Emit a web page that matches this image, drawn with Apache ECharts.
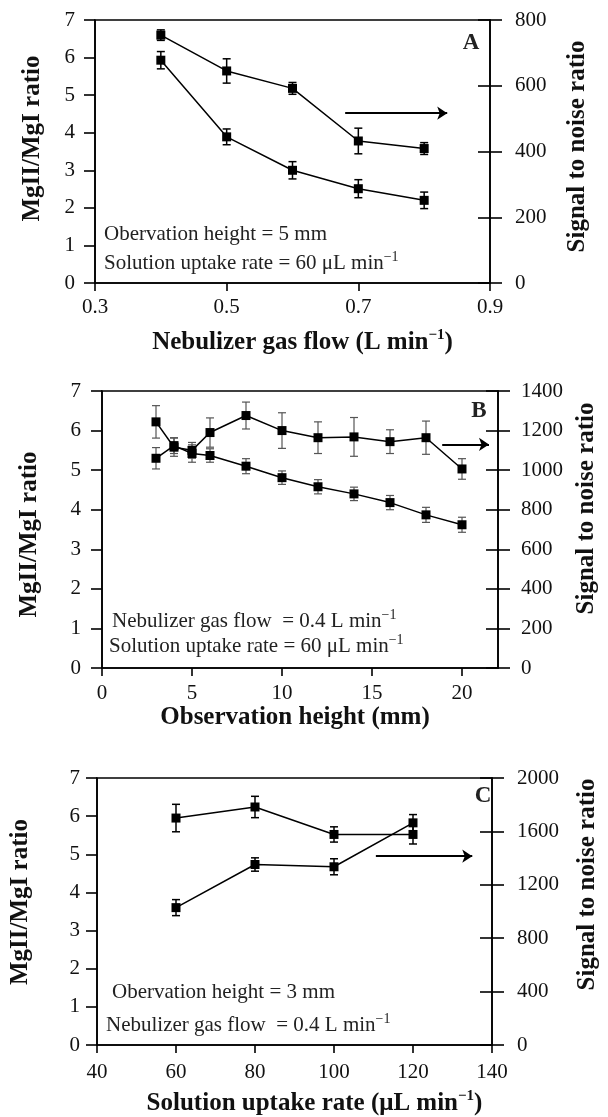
<!DOCTYPE html>
<html>
<head>
<meta charset="utf-8">
<script src="https://cdn.jsdelivr.net/npm/echarts@6/dist/echarts.min.js"></script>
<style>
html,body{margin:0;padding:0;background:#fff;}
#chart{width:608px;height:1117px;}
</style>
</head>
<body>
<div id="chart"></div>
<script>
// ---------- Data ----------
// Panel A: vs nebulizer gas flow
const xA = [0.4, 0.5, 0.6, 0.7, 0.8];
const ratioA = [5.93, 3.89, 3.0, 2.51, 2.2];
const ratioAErr = [0.23, 0.21, 0.23, 0.24, 0.22];
const snrA = [754, 645, 592, 432, 409];
const snrAErr = [16, 37, 18, 39, 18];

// Panel B: vs observation height
const xB = [3, 4, 5, 6, 8, 10, 12, 14, 16, 18, 20];
const ratioB = [5.30, 5.62, 5.42, 5.37, 5.10, 4.81, 4.58, 4.40, 4.18, 3.87, 3.62];
const ratioBErr = [0.27, 0.2, 0.22, 0.17, 0.19, 0.17, 0.18, 0.17, 0.18, 0.19, 0.19];
const snrB = [1244, 1116, 1100, 1190, 1276, 1200, 1164, 1168, 1144, 1164, 1006];
const snrBErr = [82, 46, 40, 74, 68, 90, 80, 98, 60, 84, 52];

// Panel C: vs solution uptake rate
const xC = [60, 80, 100, 120];
const ratioC = [5.95, 6.24, 5.52, 5.52];
const ratioCErr = [0.36, 0.28, 0.2, 0.25];
const snrC = [1029, 1352, 1335, 1664];
const snrCErr = [60, 50, 60, 62];

// Axis ranges / tick steps
const ratioAxis = {min: 0, max: 7, interval: 1};
const xAxisA = {min: 0.3, max: 0.9, interval: 0.2};
const xAxisB = {min: 0, max: 22, interval: 5};
const xAxisC = {min: 40, max: 140, interval: 20};
const snrAxisA = {min: 0, max: 800, interval: 200};
const snrAxisB = {min: 0, max: 1400, interval: 200};
const snrAxisC = {min: 0, max: 2000, interval: 400};

// Arrow annotations (data coords, ratio axis)
const arrowA = [[0.68, 4.52], [0.835, 4.52]];
const arrowB = [[18.9, 5.65], [21.5, 5.65]];
const arrowC = [[110.6, 4.95], [135.0, 4.95]];

// ---------- Helpers ----------
const FONT = '"Liberation Serif", "Times New Roman", serif';
const BLACK = '#111';
const TICK_FS = 21;

function zip(xs, ys) { return xs.map((x, i) => [x, ys[i]]); }
function zip3(xs, ys, es) { return xs.map((x, i) => [x, ys[i], es[i]]); }
function plain(v) { return String(Math.round(v * 1000) / 1000); }

function errSeries(xs, ys, es, xi, yi, color, width) {
  return {
    type: 'custom',
    xAxisIndex: xi, yAxisIndex: yi,
    data: zip3(xs, ys, es),
    silent: true,
    z: 3,
    renderItem: function (params, api) {
      const x = api.value(0), y = api.value(1), e = api.value(2);
      const top = api.coord([x, y + e]);
      const bot = api.coord([x, y - e]);
      const hw = 4;
      const st = {stroke: color, lineWidth: width};
      return {
        type: 'group',
        children: [
          {type: 'line', shape: {x1: top[0], y1: top[1], x2: bot[0], y2: bot[1]}, style: st},
          {type: 'line', shape: {x1: top[0] - hw, y1: top[1], x2: top[0] + hw, y2: top[1]}, style: st},
          {type: 'line', shape: {x1: bot[0] - hw, y1: bot[1], x2: bot[0] + hw, y2: bot[1]}, style: st}
        ]
      };
    }
  };
}

function lineSeries(xs, ys, xi, yi, arrow) {
  const s = {
    type: 'line',
    xAxisIndex: xi, yAxisIndex: yi,
    data: zip(xs, ys),
    symbol: 'rect', symbolSize: 9,
    itemStyle: {color: '#000'},
    lineStyle: {color: '#000', width: 1.5},
    silent: true,
    z: 4,
    animation: false
  };
  if (arrow) {
    s.markLine = {
      silent: true,
      symbol: ['none', 'arrow'],
      symbolSize: 10,
      label: {show: false},
      lineStyle: {color: '#000', width: 2.2, type: 'solid'},
      itemStyle: {color: '#000'},
      data: [[{coord: arrow[0]}, {coord: arrow[1]}]],
      animation: false
    };
  }
  return s;
}

function xAx(gi, rng, margin, name, gap, pad, hideMax) {
  return {
    type: 'value', gridIndex: gi,
    min: rng.min, max: rng.max, interval: rng.interval,
    axisLine: {show: true, onZero: false, lineStyle: {color: '#000', width: 1.6}},
    axisTick: {show: true, inside: false, length: 8, lineStyle: {color: '#000', width: 1.6}},
    splitLine: {show: false},
    axisLabel: {color: BLACK, fontFamily: FONT, fontSize: TICK_FS, margin: margin, formatter: plain, showMaxLabel: !hideMax},
    name: name, nameLocation: 'middle', nameGap: gap,
    nameTextStyle: {
      color: BLACK, fontFamily: FONT, fontSize: 25, fontWeight: 'bold', padding: pad,
      rich: {
        b: {fontFamily: FONT, fontSize: 25, fontWeight: 'bold', color: BLACK},
        s: {fontFamily: FONT, fontSize: 15, fontWeight: 'bold', color: BLACK, verticalAlign: 'top', padding: [0, 0, 14, 0]}
      }
    }
  };
}

function leftY(gi, margin, gap, pad) {
  return {
    type: 'value', gridIndex: gi, position: 'left',
    min: ratioAxis.min, max: ratioAxis.max, interval: ratioAxis.interval,
    axisLine: {show: true, lineStyle: {color: '#000', width: 1.6}},
    axisTick: {show: true, inside: false, length: 11, lineStyle: {color: '#000', width: 1.6}},
    splitLine: {show: false},
    axisLabel: {color: BLACK, fontFamily: FONT, fontSize: TICK_FS, margin: margin, formatter: plain},
    name: 'MgII/MgI ratio', nameLocation: 'middle', nameGap: gap, nameRotate: 90,
    nameTextStyle: {color: BLACK, fontFamily: FONT, fontSize: 25, fontWeight: 'bold', padding: pad}
  };
}

function rightY(gi, rng, margin, gap, pad) {
  return {
    type: 'value', gridIndex: gi, position: 'right',
    min: rng.min, max: rng.max, interval: rng.interval,
    axisLine: {show: true, lineStyle: {color: '#000', width: 1.6}},
    axisTick: {show: true, inside: false, length: 12, lineStyle: {color: '#000', width: 1.6}},
    splitLine: {show: false},
    axisLabel: {color: BLACK, fontFamily: FONT, fontSize: TICK_FS, margin: margin, formatter: plain},
    name: 'Signal to noise ratio', nameLocation: 'middle', nameGap: gap, nameRotate: 90,
    nameTextStyle: {color: BLACK, fontFamily: FONT, fontSize: 25, fontWeight: 'bold', padding: pad}
  };
}

function rightYInner(gi, rng) {
  return {
    type: 'value', gridIndex: gi, position: 'right',
    min: rng.min, max: rng.max, interval: rng.interval,
    axisLine: {show: false},
    axisTick: {show: true, inside: true, length: 12, lineStyle: {color: '#000', width: 1.6}},
    splitLine: {show: false},
    axisLabel: {show: false}
  };
}

function annot(x, y, main, sup, size) {
  const fs = size || 21;
  const text = sup ? '{a|' + main + '}{s|' + sup + '}' : '{a|' + main + '}';
  return {
    type: 'text', x: x, y: y, silent: true, z: 10,
    style: {
      text: text, align: 'left', verticalAlign: 'middle',
      rich: {
        a: {fontFamily: FONT, fontSize: fs, fill: '#222'},
        s: {fontFamily: FONT, fontSize: 14, fill: '#222', verticalAlign: 'top', padding: [0, 0, 12, 0]}
      }
    }
  };
}

function letter(x, y, t) {
  return {
    type: 'text', x: x, y: y, silent: true, z: 10,
    style: {text: t, align: 'center', verticalAlign: 'middle', font: 'bold 23px ' + FONT, fill: '#222'}
  };
}

const chart = echarts.init(document.getElementById('chart'), null, {renderer: 'canvas'});

const option = {
  backgroundColor: '#fff',
  animation: false,
  grid: [
    {left: 95, right: 118, top: 20, height: 263, show: true, borderColor: '#000', borderWidth: 1.6, containLabel: false},
    {left: 102, right: 110, top: 391, height: 277, show: true, borderColor: '#000', borderWidth: 1.6, containLabel: false},
    {left: 97, right: 100, top: 778, height: 268, show: true, borderColor: '#000', borderWidth: 1.6, containLabel: false}
  ],
  xAxis: [
    xAx(0, xAxisA, 14, '{b|Nebulizer gas flow (L min}{s|−1}{b|)}', 45, [0, 0, 0, 20]),
    xAx(1, xAxisB, 15, 'Observation height (mm)', 34, [0, 10, 0, 0], true),
    xAx(2, xAxisC, 17, '{b|Solution uptake rate (μL min}{s|−1}{b|)}', 44, [0, 0, 0, 40])
  ],
  yAxis: [
    leftY(0, 20, 50, [0, 0, 0, 26]), rightY(0, snrAxisA, 25, 75, [0, 0, 0, 10]), rightYInner(0, snrAxisA),
    leftY(1, 21, 60, [0, 10, 0, 0]), rightY(1, snrAxisB, 23, 76, [0, 0, 0, 42]), rightYInner(1, snrAxisB),
    leftY(2, 17, 64, [0, 0, 0, 19]), rightY(2, snrAxisC, 25, 83, [0, 0, 0, 54]), rightYInner(2, snrAxisC)
  ],
  series: [
    // Panel A
    errSeries(xA, ratioA, ratioAErr, 0, 0, '#000', 1.5),
    errSeries(xA, snrA, snrAErr, 0, 1, '#000', 1.5),
    lineSeries(xA, ratioA, 0, 0, arrowA),
    lineSeries(xA, snrA, 0, 1),
    // Panel B
    errSeries(xB, ratioB, ratioBErr, 1, 3, '#555', 1.2),
    errSeries(xB, snrB, snrBErr, 1, 4, '#555', 1.2),
    lineSeries(xB, ratioB, 1, 3, arrowB),
    lineSeries(xB, snrB, 1, 4),
    // Panel C
    errSeries(xC, ratioC, ratioCErr, 2, 6, '#000', 1.5),
    errSeries(xC, snrC, snrCErr, 2, 7, '#000', 1.5),
    lineSeries(xC, ratioC, 2, 6, arrowC),
    lineSeries(xC, snrC, 2, 7)
  ],
  graphic: [
    annot(104, 234, 'Obervation height = 5 mm'),
    annot(104, 263, 'Solution uptake rate = 60 μL min', '−1'),
    letter(471, 43, 'A'),
    annot(112, 621, 'Nebulizer gas flow  = 0.4 L min', '−1'),
    annot(109, 646, 'Solution uptake rate = 60 μL min', '−1'),
    letter(479, 411, 'B'),
    annot(112, 992, 'Obervation height = 3 mm'),
    annot(106, 1025, 'Nebulizer gas flow  = 0.4 L min', '−1'),
    letter(483, 796, 'C')
  ]
};

chart.setOption(option);
</script>
</body>
</html>
